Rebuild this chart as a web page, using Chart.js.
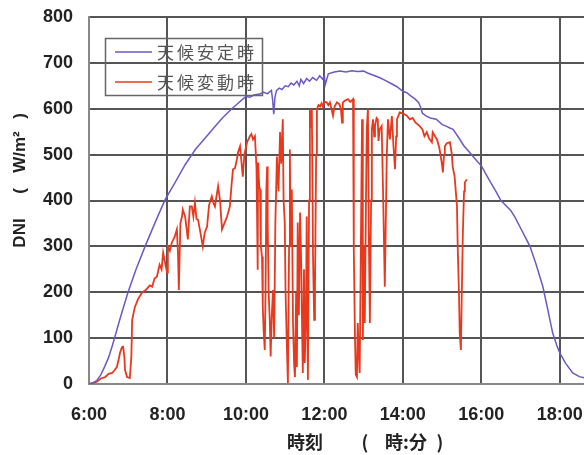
<!DOCTYPE html>
<html>
<head>
<meta charset="utf-8">
<script src="https://cdn.jsdelivr.net/npm/chart.js"></script>
<style>
  html, body { margin: 0; padding: 0; background: #fff; }
  #wrap { width: 584px; height: 455px; overflow: hidden; position: relative; }
  canvas { display: block; }
</style>
</head>
<body>
<div id="wrap"><canvas id="c" width="610" height="455"></canvas></div>
<script>
// Time of day in decimal hours, DNI in W/m²
const stableHours = [6.00, 6.10, 6.20, 6.30, 6.40, 6.50, 6.60, 6.66, 6.80, 6.99, 7.20, 7.43, 7.70, 7.94, 8.20, 8.45, 8.71, 9.00, 9.20, 9.40, 9.64, 9.80,
  10.00, 10.10, 10.20, 10.35, 10.45, 10.55, 10.65, 10.68, 10.71, 10.74, 10.78, 10.85, 10.92, 11.00, 11.08, 11.15, 11.22, 11.30, 11.36, 11.40, 11.47,
  11.55, 11.62, 11.70, 11.80, 11.88, 11.95, 12.00, 12.02, 12.10, 12.25, 12.40, 12.55, 12.70, 12.85, 13.00, 13.10, 13.25, 13.40, 13.55, 13.70, 13.85,
  14.00, 14.10, 14.20, 14.30, 14.40, 14.45, 14.50, 14.60, 14.70, 14.85, 15.00, 15.10, 15.20, 15.28, 15.40, 15.55, 15.70, 15.80, 15.90, 16.00, 16.10,
  16.20, 16.30, 16.39, 16.50, 16.65, 16.75, 16.85, 17.00, 17.12, 17.24, 17.40, 17.57, 17.70, 17.82, 17.92, 18.00, 18.15, 18.33, 18.50, 18.65, 18.75];
const stableDNI = [0, 2, 8, 20, 38, 58, 85, 103, 145, 199, 250, 300, 355, 402, 440, 478, 511, 540, 560, 580, 600, 612,
  627, 625, 630, 632, 636, 633, 640, 620, 588, 625, 640, 645, 642, 650, 648, 656, 652, 660, 650, 664, 655,
  666, 660, 668, 662, 672, 665, 671, 652, 676, 680, 682, 680, 683, 681, 682, 678, 673, 668, 662, 655, 648,
  638, 635, 628, 622, 614, 604, 590, 584, 580, 577, 566, 562, 558, 555, 540, 520, 505, 495, 485, 476, 460,
  445, 430, 417, 400, 387, 378, 365, 340, 320, 300, 260, 212, 160, 111, 85, 68, 45, 24, 16, 13, 12];

const variableHours = [6.00, 6.08, 6.20, 6.30, 6.41, 6.50, 6.59, 6.65, 6.71, 6.76, 6.79, 6.84, 6.87, 6.90, 6.92, 6.97, 7.04, 7.08, 7.10, 7.17,
  7.25, 7.35, 7.45, 7.55, 7.61, 7.67, 7.73, 7.80, 7.85, 7.89, 7.95, 7.99, 8.01, 8.06, 8.11, 8.18, 8.24, 8.27, 8.29, 8.33, 8.37, 8.39,
  8.45, 8.50, 8.52, 8.57, 8.62, 8.66, 8.70, 8.74, 8.78, 8.84, 8.90, 8.95, 9.01, 9.06, 9.13, 9.17, 9.21, 9.29, 9.34, 9.39, 9.45, 9.52,
  9.59, 9.63, 9.67, 9.72, 9.77, 9.80, 9.85, 9.88, 9.92, 9.96, 10.03, 10.10, 10.14, 10.18, 10.23, 10.27, 10.30, 10.31, 10.34, 10.36,
  10.38, 10.41, 10.43, 10.45, 10.48, 10.50, 10.52, 10.54, 10.55, 10.56, 10.58, 10.61, 10.63, 10.66, 10.69, 10.72, 10.75, 10.79, 10.83,
  10.87, 10.90, 10.94, 10.96, 10.99, 11.01, 11.04, 11.07, 11.10, 11.12, 11.14, 11.17, 11.20, 11.23, 11.25, 11.28, 11.30, 11.32, 11.35,
  11.38, 11.41, 11.43, 11.45, 11.48, 11.50, 11.53, 11.55, 11.57, 11.58, 11.61, 11.63, 11.66, 11.68, 11.70, 11.71, 11.74, 11.76, 11.79,
  11.81, 11.85, 11.89, 11.93, 11.96, 12.00, 12.06, 12.10, 12.14, 12.18, 12.22, 12.26, 12.32, 12.38, 12.42, 12.45, 12.47, 12.53, 12.60,
  12.66, 12.73, 12.75, 12.78, 12.80, 12.83, 12.85, 12.88, 12.90, 12.93, 12.96, 12.98, 13.01, 13.03, 13.06, 13.08, 13.11, 13.13, 13.16,
  13.19, 13.21, 13.24, 13.27, 13.29, 13.33, 13.36, 13.38, 13.41, 13.46, 13.50, 13.54, 13.57, 13.59, 13.62, 13.67, 13.72, 13.76, 13.80,
  13.83, 13.85, 13.92, 14.00, 14.10, 14.18, 14.25, 14.32, 14.43, 14.50, 14.55, 14.61, 14.67, 14.74, 14.76, 14.82, 14.87, 14.93, 14.99,
  15.02, 15.05, 15.07, 15.12, 15.20, 15.25, 15.27, 15.32, 15.38, 15.40, 15.43, 15.45, 15.48, 15.50, 15.53, 15.56, 15.58, 15.63];
const variableDNI = [0, 2, 5, 12, 15, 22, 24, 30, 37, 55, 68, 80, 81, 60, 30, 15, 13, 60, 140, 168,
  185, 199, 205, 215, 212, 230, 234, 260, 250, 286, 260, 243, 300, 290, 308, 320, 337, 280, 205, 350, 365, 380,
  365, 330, 315, 387, 387, 365, 395, 360, 358, 330, 300, 330, 343, 390, 409, 395, 387, 431, 400, 337, 350, 365,
  387, 430, 468, 470, 490, 505, 518, 490, 452, 500, 527, 540, 545, 533, 540, 470, 249, 483, 430, 424,
  300, 278, 168, 120, 74, 200, 420, 474, 300, 352, 200, 133, 60, 150, 205, 100, 350, 496, 420,
  549, 480, 577, 400, 352, 200, 96, 2, 300, 511, 300, 424, 133, 40, 15, 200, 37, 352, 150,
  374, 260, 133, 24, 250, 46, 150, 365, 100, 9, 400, 599, 560, 599, 400, 278, 140, 205, 500,
  599, 608, 605, 612, 605, 615, 614, 608, 614, 600, 585, 605, 614, 610, 600, 570, 614, 618, 621,
  615, 621, 293, 100, 20, 15, 133, 60, 24, 300, 577, 96, 300, 133, 400, 555, 599, 350, 133,
  400, 555, 577, 540, 562, 580, 577, 530, 555, 562, 400, 212, 380, 496, 577, 533, 584, 520, 468,
  540, 577, 592, 590, 585, 577, 580, 570, 562, 555, 540, 549, 535, 527, 549, 540, 533, 515, 483,
  461, 500, 518, 525, 527, 500, 474, 452, 387, 293, 200, 111, 74, 184, 330, 420, 439, 446];

const seriesNames = ['天候安定時', '天候変動時'];
const seriesColors = ['#6a5ac4', '#e8391f'];
const yTitleParts = ['DNI', '(', 'W/m²', ')'];
const xTitleParts = ['時刻', '(', '時:分', ')'];

const toPoints = (xs, ys) => xs.map((x, i) => ({ x, y: ys[i] }));

const inkColor = '#222';
const gridColor = '#555';

// Legend box and axis titles drawn on the canvas
const decorations = {
  id: 'decorations',
  afterDraw(chart) {
    const ctx = chart.ctx;
    ctx.save();
    // legend
    ctx.strokeStyle = '#666';
    ctx.lineWidth = 1.5;
    ctx.strokeRect(105.5, 38.5, 157, 57);
    const rows = [52, 82];
    ctx.font = '17px "Noto Sans CJK JP"';
    ctx.textBaseline = 'middle';
    ctx.textAlign = 'left';
    rows.forEach((ry, i) => {
      ctx.strokeStyle = seriesColors[i];
      ctx.lineWidth = 1.3;
      ctx.beginPath();
      ctx.moveTo(115, ry);
      ctx.lineTo(152, ry);
      ctx.stroke();
      ctx.fillStyle = '#555';
      [...seriesNames[i]].forEach((ch, k) => ctx.fillText(ch, 157 + k * 20, ry + 1));
    });

    // y-axis title (rotated)
    ctx.fillStyle = inkColor;
    ctx.translate(20, 0);
    ctx.rotate(-Math.PI / 2);
    ctx.textAlign = 'center';
    ctx.textBaseline = 'middle';
    ctx.font = 'bold 17px "Liberation Sans", Arial, sans-serif';
    const yPos = [233, 191, 152, 116];
    yTitleParts.forEach((t, i) => ctx.fillText(t, -yPos[i], 0));
    ctx.setTransform(1, 0, 0, 1, 0, 0);

    // x-axis title
    ctx.fillStyle = inkColor;
    ctx.textAlign = 'center';
    ctx.textBaseline = 'middle';
    ctx.font = 'bold 18px "Noto Sans CJK JP"';
    const xPos = [305, 365, 406, 440];
    xTitleParts.forEach((t, i) => ctx.fillText(t, xPos[i], 442));
    ctx.restore();
  }
};

const zeroPadding = scale => {
  scale.paddingTop = 0;
  scale.paddingBottom = 0;
  scale.paddingLeft = 0;
  scale.paddingRight = 0;
};

new Chart(document.getElementById('c'), {
  type: 'line',
  data: {
    datasets: [
      {
        label: seriesNames[0],
        data: toPoints(stableHours, stableDNI),
        borderColor: seriesColors[0],
        borderWidth: 1.5,
        pointRadius: 0,
        tension: 0
      },
      {
        label: seriesNames[1],
        data: toPoints(variableHours, variableDNI),
        borderColor: seriesColors[1],
        borderWidth: 1.8,
        pointRadius: 0,
        tension: 0
      }
    ]
  },
  options: {
    responsive: false,
    animation: false,
    devicePixelRatio: 1,
    layout: { padding: { top: 17, right: 11, left: 0, bottom: 0 } },
    plugins: { legend: { display: false }, tooltip: { enabled: false } },
    scales: {
      x: {
        type: 'linear',
        min: 6,
        max: 19,
        afterFit(scale) { scale.height = 71; zeroPadding(scale); },
        ticks: {
          stepSize: 2,
          autoSkip: false,
          maxRotation: 0,
          padding: 20,
          color: inkColor,
          font: { family: '"Liberation Sans", Arial, sans-serif', size: 18, weight: 'bold' },
          callback: v => (v % 2 === 0 && v <= 18) ? v + ':00' : ''
        },
        grid: { color: gridColor, lineWidth: 2, drawTicks: false },
        border: { color: '#888', width: 2 }
      },
      y: {
        min: 0,
        max: 800,
        afterFit(scale) { scale.width = 89; zeroPadding(scale); },
        ticks: {
          stepSize: 100,
          padding: 16,
          color: inkColor,
          font: { family: '"Liberation Sans", Arial, sans-serif', size: 18, weight: 'bold' }
        },
        grid: { color: gridColor, lineWidth: 2, drawTicks: false },
        border: { color: '#888', width: 2 }
      }
    }
  },
  plugins: [decorations]
});
</script>
</body>
</html>
